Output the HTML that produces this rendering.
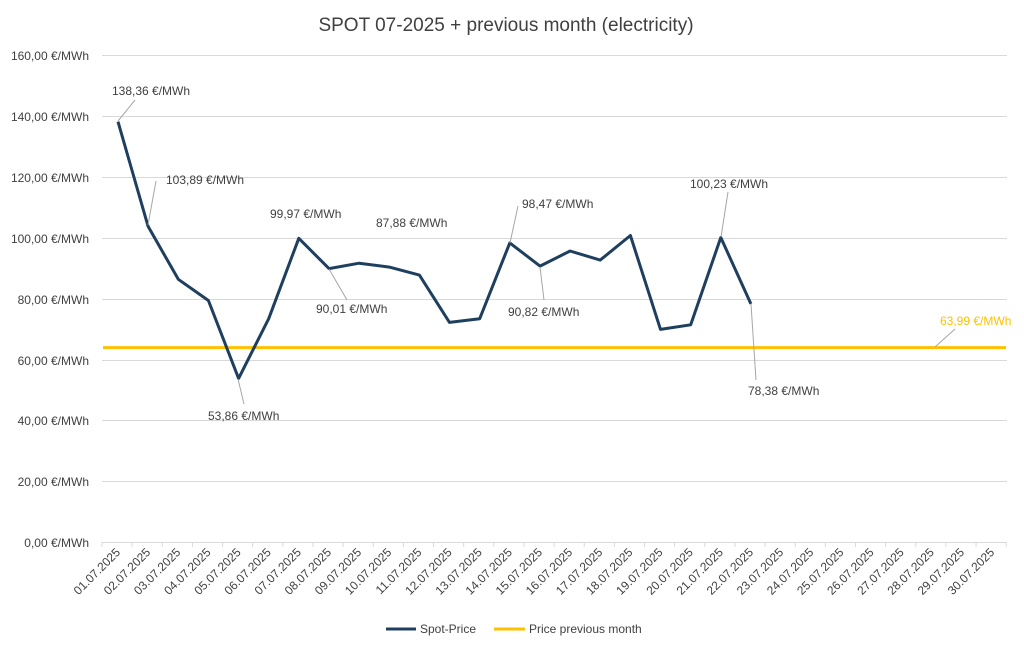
<!DOCTYPE html>
<html><head><meta charset="utf-8"><style>
body{margin:0;background:#fff}
svg text{font-family:"Liberation Sans",sans-serif;fill:#404040}
</style></head><body>
<svg width="1024" height="651" viewBox="0 0 1024 651" xmlns="http://www.w3.org/2000/svg">
<rect width="1024" height="651" fill="#fff"/>
<text x="506" y="31" font-size="19" text-anchor="middle">SPOT 07-2025 + previous month (electricity)</text>
<g stroke="#d9d9d9" stroke-width="1">
<line x1="102" x2="1007" y1="55.5" y2="55.5"/>
<line x1="102" x2="1007" y1="116.5" y2="116.5"/>
<line x1="102" x2="1007" y1="177.5" y2="177.5"/>
<line x1="102" x2="1007" y1="238.5" y2="238.5"/>
<line x1="102" x2="1007" y1="299.5" y2="299.5"/>
<line x1="102" x2="1007" y1="360.5" y2="360.5"/>
<line x1="102" x2="1007" y1="420.5" y2="420.5"/>
<line x1="102" x2="1007" y1="481.5" y2="481.5"/>
<line x1="102" x2="1007" y1="542.5" y2="542.5"/>
</g>
<g font-size="12" text-anchor="end">
<text x="89" y="60">160,00 €/MWh</text>
<text x="89" y="121">140,00 €/MWh</text>
<text x="89" y="182">120,00 €/MWh</text>
<text x="89" y="243">100,00 €/MWh</text>
<text x="89" y="304">80,00 €/MWh</text>
<text x="89" y="365">60,00 €/MWh</text>
<text x="89" y="425">40,00 €/MWh</text>
<text x="89" y="486">20,00 €/MWh</text>
<text x="89" y="547">0,00 €/MWh</text>
</g>
<g id="ticks" stroke="#d9d9d9"></g>
<g id="xl" font-size="12" text-anchor="end"></g>
<line x1="103" x2="1006" y1="347.6" y2="347.6" stroke="#ffc000" stroke-width="3"/>
<polyline fill="none" stroke="#1f3f5f" stroke-width="3" stroke-linejoin="round" points="118,121.7 148.1,226.4 178.3,279.3 208.4,300.5 238.6,378.4 268.7,318.7 298.8,238.3 329,268.6 359.1,263.2 389.3,267.1 419.4,275.1 449.5,322.4 479.7,318.7 509.8,242.9 540,266.1 570.1,251 600.2,260.1 630.4,235.5 660.5,329.4 690.7,324.8 720.8,237.5 750.9,303.9"/>
<g stroke="#a6a6a6" stroke-width="1" fill="none">
<line x1="118" y1="121" x2="135" y2="100"/>
<line x1="148" y1="225" x2="156" y2="181"/>
<line x1="238" y1="379" x2="244" y2="404"/>
<line x1="329" y1="269" x2="347" y2="300"/>
<line x1="510" y1="243" x2="518" y2="206"/>
<line x1="540" y1="267" x2="544" y2="300"/>
<line x1="721" y1="237" x2="728" y2="192"/>
<line x1="751" y1="304" x2="756" y2="380"/>
<line x1="935" y1="347" x2="955" y2="329"/>
</g>
<g font-size="12">
<text x="112" y="95">138,36 €/MWh</text>
<text x="166" y="184">103,89 €/MWh</text>
<text x="208" y="420">53,86 €/MWh</text>
<text x="270" y="218">99,97 €/MWh</text>
<text x="316" y="313">90,01 €/MWh</text>
<text x="376" y="227">87,88 €/MWh</text>
<text x="522" y="208">98,47 €/MWh</text>
<text x="508" y="316">90,82 €/MWh</text>
<text x="690" y="188">100,23 €/MWh</text>
<text x="748" y="395">78,38 €/MWh</text>
<text x="940" y="325" style="fill:#ffc000">63,99 €/MWh</text>
</g>
<line x1="386" x2="416" y1="629" y2="629" stroke="#1f3f5f" stroke-width="3"/>
<text x="420" y="633" font-size="12">Spot-Price</text>
<line x1="494" x2="525" y1="629" y2="629" stroke="#ffc000" stroke-width="3"/>
<text x="529" y="633" font-size="12">Price previous month</text>
<script>
var t=document.getElementById('ticks'),l=document.getElementById('xl'),ns='http://www.w3.org/2000/svg';
for(var i=0;i<=30;i++){var x=102+i*30.14;var e=document.createElementNS(ns,'line');e.setAttribute('x1',x);e.setAttribute('x2',x);e.setAttribute('y1',542);e.setAttribute('y2',547);t.appendChild(e);}
for(var i=0;i<30;i++){var x=117+i*30.14+4,y=553;var e=document.createElementNS(ns,'text');e.setAttribute('transform','translate('+x+','+y+') rotate(-45)');e.textContent=(i+1<10?'0':'')+(i+1)+'.07.2025';l.appendChild(e);}
</script>
</svg>
</body></html>
